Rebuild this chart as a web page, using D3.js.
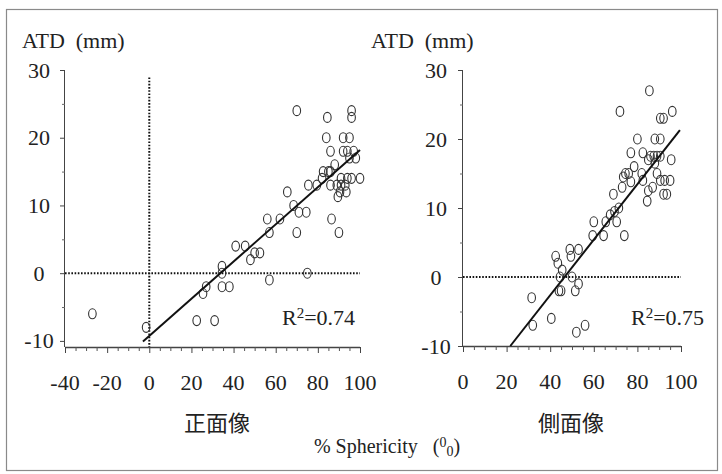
<!DOCTYPE html>
<html><head><meta charset="utf-8">
<script src="https://cdn.jsdelivr.net/npm/d3@7"></script>
</head>
<body style="margin:0">
<svg id="chart" width="722" height="474"></svg>
<script>
// ---- data ----
const frontX = [-27,-1.5,22.5,31,25.5,27,34.5,38,34.5,34.5,41,45.5,48,50,52.5,57,57,56,62,65.5,68.5,71,74.5,70,75,86.5,90,75.5,79.5,86,89.5,70,84.5,96,96,84,92,95,86,92,94,97,95,98,88,82.5,85,82,86,91,94,96,100,89,91,93,90.5,93.5];
const frontY = [-6,-8,-7,-7,-3,-2,-2,-2,1,0,4,4,2,3,3,-1,6,8,8,12,10,9,9,6,0,8,6,13,13,13,11.3,24,23,24,23,20,20,20,18,18,18,18,17,17,16,15,15,14,15,14,14,14,14,13,13,13,12,12];
const sideX = [31.5,32,40.5,52,56,42.5,43.5,45.5,44.5,44,45,50,51.5,53,49,49.5,53,59.5,60,64.5,65.5,67.5,70.5,71.5,74,69,73,69.5,85.5,72,90.5,92,96,80,88,90.5,77,82.5,86,87.5,89,90.5,85,88,95.5,78.5,74.5,76,82,89,77,73.5,82.5,90.5,92.5,95,87,85,84.5,92,93.5];
const sideY = [-3,-7,-6,-8,-7,3,2,1,0,-2,-2,0,-2,-1,4,3,4,6,8,6,8,9,8,10,6,12,13,9.5,27,24,23,23,24,20,20,20,18,18,17.5,17.5,17.5,17.5,17,16.5,17,16,15,15,15,15,13.8,14.5,14,14,14,14,13,12.5,11,12,12];
const frontFit = [[-3,-10.1],[100,18.2]];
const sideFit = [[21.7,-10],[99.5,21.3]];
const yTicks = [-10,0,10,20,30];
const yMinor = [-5,5,15,25];
const frontXTicks = [-40,-20,0,20,40,60,80,100];
const sideXTicks = [0,20,40,60,80,100];
const yTitle = "ATD\u00a0\u00a0(mm)";
const frontLabel = "正面像";
const sideLabel = "側面像";
const r2Front = "0.74", r2Side = "0.75";

const svg = d3.select("#chart");
svg.append("rect").attr("x",6.5).attr("y",9.5).attr("width",711).attr("height",461)
  .attr("fill","none").attr("stroke","#8a8a8a").attr("stroke-width",1.2);

function txt(sel, size){
  return sel.style("font-family","'Liberation Serif'").style("font-size",size+"px").style("fill","#222");
}

function panel(cfg){
  const g = svg.append("g");
  const x = d3.scaleLinear().domain(cfg.xDom).range(cfg.xRange);
  const y = d3.scaleLinear().domain(cfg.yDom).range(cfg.yRange);
  const axisY = x(cfg.xDom[0]);
  const axisX = y(cfg.yDom[0]);
  // dotted reference lines
  g.append("line").attr("x1",x(cfg.xDom[0])).attr("x2",x(cfg.xDom[1]))
    .attr("y1",y(0)).attr("y2",y(0)).attr("stroke","#111").attr("stroke-width",2)
    .attr("stroke-dasharray","1.6 1.6");
  if (cfg.vline){
    g.append("line").attr("x1",x(0)).attr("x2",x(0)).attr("y1",y(28.9)).attr("y2",axisX)
      .attr("stroke","#111").attr("stroke-width",2).attr("stroke-dasharray","1.6 1.6");
  }
  // y axis (ticks only, labels drawn as own texts)
  const ya = g.append("g").attr("transform",`translate(${axisY},0)`)
    .call(d3.axisLeft(y).tickValues(yTicks).tickSize(5).tickFormat(""));
  ya.select(".domain").attr("d",`M-0.5,${y(30)}V${axisX}`).attr("stroke","#444");
  ya.selectAll(".tick line").attr("stroke","#444");
  g.append("g").attr("transform",`translate(${axisY},0)`)
    .call(d3.axisLeft(y).tickValues(yMinor).tickSize(3).tickFormat(""))
    .call(s=>s.select(".domain").remove()).selectAll("line").attr("stroke","#666");
  g.append("g").selectAll("text").data(yTicks).join("text")
    .attr("x",axisY+cfg.ylabX).attr("y",d=>y(d)+7.5).attr("text-anchor","middle")
    .call(s=>txt(s,22)).text(d=>String(d));
  // x axis
  const xa = g.append("g").attr("transform",`translate(0,${axisX})`)
    .call(d3.axisBottom(x).tickValues(cfg.xTicks).tickSize(6).tickFormat(""));
  xa.select(".domain").attr("d",`M${x(cfg.xDom[0])},0.5H${x(cfg.xDom[1])}`).attr("stroke","#444").attr("stroke-width",1.5);
  xa.selectAll(".tick line").attr("stroke","#444");
  const minor = d3.range(cfg.xDom[0], cfg.xDom[1]+1, 5).filter(v=>!cfg.xTicks.includes(v));
  g.append("g").attr("transform",`translate(0,${axisX})`)
    .call(d3.axisBottom(x).tickValues(minor).tickSize(4).tickFormat(""))
    .call(s=>s.select(".domain").remove()).selectAll("line").attr("stroke","#555");
  g.append("g").selectAll("text").data(cfg.xTicks).join("text")
    .attr("x",d=>x(d)).attr("y",axisX+43).attr("text-anchor","middle")
    .call(s=>txt(s,22)).text(d=>String(d));
  // points
  g.append("g").selectAll("ellipse").data(cfg.xs.map((v,i)=>[v,cfg.ys[i]])).join("ellipse")
    .attr("cx",d=>x(d[0])).attr("cy",d=>y(d[1])).attr("rx",3.8).attr("ry",5)
    .attr("fill","none").attr("stroke","#333").attr("stroke-width",1.1);
  // fit line
  g.append("line").attr("x1",x(cfg.fit[0][0])).attr("y1",y(cfg.fit[0][1]))
    .attr("x2",x(cfg.fit[1][0])).attr("y2",y(cfg.fit[1][1]))
    .attr("stroke","#111").attr("stroke-width",2);
  // texts
  txt(g.append("text").attr("x",cfg.titleX).attr("y",48), 22).text(yTitle);
  const r = txt(g.append("text").attr("x",cfg.r2X).attr("y",325), 22);
  r.append("tspan").text("R");
  r.append("tspan").attr("dy",-7).style("font-size","15px").text("2");
  r.append("tspan").attr("dy",7).text("="+cfg.r2);
  g.append("text").attr("x",cfg.catX).attr("y",431).attr("text-anchor","middle")
    .style("font-family","'Noto Sans CJK JP'").style("font-size","22px").style("fill","#222").text(cfg.cat);
}

panel({xDom:[-40,100], xRange:[65,360], yDom:[-10.9,30], yRange:[347,70], vline:true,
  xTicks:frontXTicks, xs:frontX, ys:frontY, fit:frontFit, ylabX:-26,
  titleX:22, r2X:282, r2:r2Front, catX:217, cat:frontLabel});
panel({xDom:[0,100], xRange:[463,681], yDom:[-10,30], yRange:[346,70], vline:false,
  xTicks:sideXTicks, xs:sideX, ys:sideY, fit:sideFit, ylabX:-27,
  titleX:371, r2X:631, r2:r2Side, catX:571, cat:sideLabel});

// shared x title
const t = txt(svg.append("text").attr("x",387).attr("y",453).attr("text-anchor","middle"), 20);
t.append("tspan").text("% Sphericity\u00a0\u00a0\u00a0(");
t.append("tspan").attr("dy",-6).style("font-size","14px").text("0");
t.append("tspan").attr("dy",9).style("font-size","14px").text("0");
t.append("tspan").attr("dy",-3).text(")");
</script>
</body></html>
